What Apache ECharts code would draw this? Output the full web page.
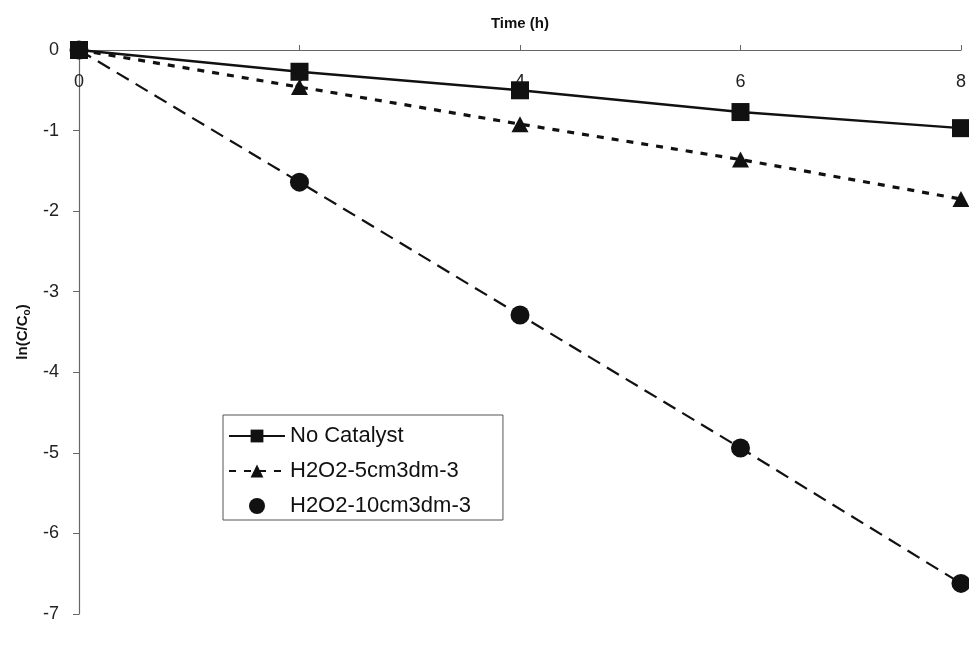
<!DOCTYPE html>
<html>
<head>
<meta charset="utf-8">
<script src="https://cdn.jsdelivr.net/npm/echarts@6/dist/echarts.min.js"></script>
<style>
html,body{margin:0;padding:0;background:#fff;}
#chart{width:969px;height:653px;}
</style>
</head>
<body>
<div id="chart"></div>
<script>
var times = [0, 2, 4, 6, 8];
var noCatalyst = [0, -0.27, -0.50, -0.77, -0.97];
var h2o2_5 = [0, -0.46, -0.92, -1.36, -1.85];
var h2o2_10 = [0, -1.64, -3.29, -4.94, -6.62];
var seriesNames = ['No Catalyst', 'H2O2-5cm3dm-3', 'H2O2-10cm3dm-3'];

function pairs(ys) { return times.map(function (t, i) { return [t, ys[i]]; }); }

var ink = '#111';
var chart = echarts.init(document.getElementById('chart'));
chart.setOption({
  animation: false,
  backgroundColor: '#fff',
  grid: { left: 79, top: 50, right: 7, bottom: 39, containLabel: false },
  legend: {
    orient: 'vertical',
    left: 223, top: 415,
    padding: [10, 32, 3, 5],
    borderColor: '#555', borderWidth: 1,
    backgroundColor: '#fff',
    itemWidth: 56, itemHeight: 16, itemGap: 13,
    textStyle: { fontFamily: 'Liberation Sans, Arial', fontSize: 22, color: '#111' },
    data: [
      { name: seriesNames[0] },
      { name: seriesNames[1] },
      { name: seriesNames[2], icon: 'circle' }
    ]
  },
  xAxis: {
    type: 'value', position: 'top', min: 0, max: 8, interval: 2,
    name: 'Time (h)', nameLocation: 'middle', nameGap: 19,
    nameTextStyle: { fontFamily: 'Liberation Sans, Arial', fontWeight: 'bold', fontSize: 15, color: '#111' },
    axisLine: { onZero: false, lineStyle: { color: '#666', width: 1.2 } },
    axisTick: { inside: false, length: 5, lineStyle: { color: '#666' } },
    axisLabel: { inside: true, margin: 23, fontFamily: 'Liberation Sans, Arial', fontSize: 18, color: '#222', showMaxLabel: true },
    splitLine: { show: false }
  },
  yAxis: {
    type: 'value', min: -7, max: 0, interval: 1,
    name: '{a|ln(C/C}{b|o}{a|)}', nameLocation: 'middle', nameGap: 46, nameRotate: 90,
    nameTextStyle: {
      rich: {
        a: { fontFamily: 'Liberation Sans, Arial', fontWeight: 'bold', fontSize: 15, color: '#111' },
        b: { fontFamily: 'Liberation Sans, Arial', fontWeight: 'bold', fontSize: 10, color: '#111', padding: [8, 0, 0, 0] }
      }
    },
    axisLine: { show: true, onZero: false, lineStyle: { color: '#666', width: 1.2 } },
    axisTick: { show: true, length: 6, lineStyle: { color: '#666' } },
    axisLabel: { margin: 20, fontFamily: 'Liberation Sans, Arial', fontSize: 18, color: '#222' },
    splitLine: { show: false }
  },
  series: [
    {
      name: seriesNames[2], type: 'line', data: pairs(h2o2_10), z: 2,
      symbol: 'circle', symbolSize: 19,
      itemStyle: { color: ink },
      lineStyle: { color: ink, width: 2.2, type: [14, 8] }
    },
    {
      name: seriesNames[1], type: 'line', data: pairs(h2o2_5), z: 3,
      symbol: 'triangle', symbolSize: [17, 16],
      itemStyle: { color: ink },
      lineStyle: { color: ink, width: 3.2, type: [7, 8] }
    },
    {
      name: seriesNames[0], type: 'line', data: pairs(noCatalyst), z: 4,
      symbol: 'rect', symbolSize: 18,
      itemStyle: { color: ink },
      lineStyle: { color: ink, width: 2.4, type: 'solid' }
    }
  ]
});
</script>
</body>
</html>
